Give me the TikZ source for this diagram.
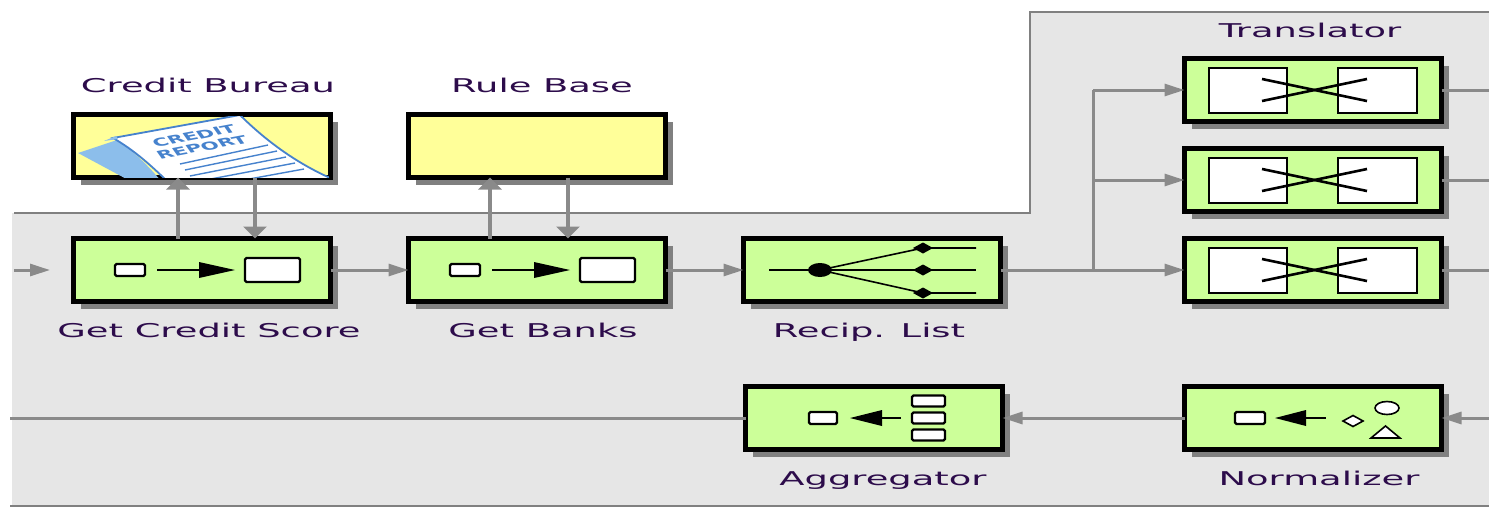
\documentclass[tikz,border=0pt]{standalone}
\usepackage{fontspec}
\setmainfont{DejaVu Sans}
\usepackage{graphicx}
\usetikzlibrary{arrows.meta,shadows,calc}

\definecolor{eipgreen}{RGB}{204,255,153}
\definecolor{eipyellow}{RGB}{255,255,153}
\definecolor{bggray}{RGB}{230,230,230}
\definecolor{edgegray}{RGB}{128,128,128}
\definecolor{flowgray}{RGB}{138,138,138}
\definecolor{lblcol}{RGB}{45,12,75}
\definecolor{reportblue}{RGB}{70,130,205}
\definecolor{sheetblue}{RGB}{140,190,235}

% labels are set wide, as in the original EIP sketches
\newcommand\widetext[1]{\scalebox{1.94}[1]{#1}}

\begin{document}
\begin{tikzpicture}[x=1pt,y=-1pt,
  eipbox/.style={draw=black, line width=4.5pt, fill=eipgreen,
    minimum width=257pt, minimum height=63pt, inner sep=0pt, outer sep=0pt,
    drop shadow={shadow xshift=7pt, shadow yshift=-7pt, fill=black!50, opacity=1}},
  storebox/.style={eipbox, fill=eipyellow},
  lbl/.style={text=lblcol, font=\fontsize{19}{22}\selectfont, anchor=base, inner sep=0pt},
  edge/.style={draw=edgegray, line width=2.5pt},
  flow/.style={draw=flowgray, line width=3pt},
  harr/.style={flow, -{Triangle[length=20pt,width=12pt]}},
  varr/.style={flow, line width=4pt, -{Triangle[length=12pt,width=23pt]}},
  iconbox/.style={draw=black, fill=white, line width=2.2pt, rounded corners=1.5pt},
  iconline/.style={draw=black, line width=2pt}]

\useasboundingbox (0,0) rectangle (1489,512);
\clip (0,0) rectangle (1489,512);

% backdrop of the loan broker process
\fill[bggray] (12,213) -- (1030,213) -- (1030,12) -- (1500,12) -- (1500,506) -- (12,506) -- cycle;
\draw[edge] (14,213) -- (1030,213) -- (1030,12) -- (1500,12);
\draw[edge] (10,506) -- (1500,506);

% external resources
\node[storebox] (cb) at (202,146) {};
\node[storebox] (rb) at (537,146) {};

% credit report sketch
\begin{scope}
  \clip (76,116) rectangle (329,177);
  \fill[sheetblue] (78,153) -- (117,140) .. controls (135,152) and (150,168) .. (162,182) -- (132,182) -- cycle;
  \filldraw[fill=white, draw=reportblue, line width=1.8pt]
    (113,138) -- (240,115) .. controls (265,140) and (295,162) .. (328,177) -- (336,186)
    -- (172,186) .. controls (152,166) and (134,150) .. (113,138) -- cycle;
  \fill[sheetblue] (104,141) -- (116,136) -- (118,139) -- cycle;
  \foreach \i in {0,...,4}
    \draw[reportblue, line width=1.4pt] (180+5*\i,164+6*\i) -- (268+9*\i,145+6*\i);
  \begin{scope}[shift={(198,141.5)}, xscale=1.94]
    \node[transform shape, rotate=20, text=reportblue, inner sep=0pt, align=center,
      font=\fontsize{11}{12}\selectfont\bfseries] (rpt) at (0,0) {CREDIT\\REPORT};
  \end{scope}
\end{scope}

% processing steps
\node[eipbox] (gcs) at (202,270) {};
\node[eipbox] (gb) at (537,270) {};
\node[eipbox] (rl) at (872,270) {};
\node[eipbox] (t1) at (1313,90) {};
\node[eipbox] (t2) at (1313,180) {};
\node[eipbox] (t3) at (1313,270) {};
\node[eipbox] (ag) at (874,418) {};
\node[eipbox] (nz) at (1313,418) {};

% content enricher icons
\foreach \n in {gcs,gb}{
  \begin{scope}[shift={(\n.center)}]
    \draw[iconbox] (-87,-6) rectangle (-57,6);
    \draw[iconline] (-45,0) -- (0,0);
    \fill (-3,-8) -- (33,0) -- (-3,8) -- cycle;
    \draw[iconbox] (43,-12) rectangle (98,12);
  \end{scope}
}

% recipient list icon
\begin{scope}[shift={(rl.center)}]
  \draw[iconline, line width=1.6pt] (-103,0) -- (104,0);
  \draw[iconline, line width=1.6pt] (-52,0) -- (51,-22) -- (104,-22);
  \draw[iconline, line width=1.6pt] (-52,0) -- (51,23) -- (104,23);
  \fill (-52,0) ellipse [x radius=12, y radius=7];
  \foreach \yy in {-22,0,23}
    \fill (41,\yy) -- (51,\yy-5.5) -- (61,\yy) -- (51,\yy+5.5) -- cycle;
\end{scope}

% translator icons
\foreach \n in {t1,t2,t3}{
  \begin{scope}[shift={(\n.center)}]
    \draw[iconbox, rounded corners=0] (-104,-22) rectangle (-26,23);
    \draw[iconbox, rounded corners=0] (25,-22) rectangle (104,23);
    \draw[iconline, line width=2.6pt] (-51,-11) -- (54,11);
    \draw[iconline, line width=2.6pt] (-51,11) -- (54,-11);
  \end{scope}
}

% aggregator icon
\begin{scope}[shift={(ag.center)}]
  \draw[iconbox] (-65,-6) rectangle (-37,6);
  \fill (-24,0) -- (8,-8) -- (8,8) -- cycle;
  \draw[iconline] (8,0) -- (27,0);
  \foreach \yy in {-17,0,17}
    \draw[iconbox] (38,\yy-5.5) rectangle (71,\yy+5.5);
\end{scope}

% normalizer icon
\begin{scope}[shift={(nz.center)}]
  \draw[iconbox] (-78,-6) rectangle (-48,6);
  \fill (-38,0) -- (-7,-8) -- (-7,8) -- cycle;
  \draw[iconline] (-7,0) -- (13,0);
  \draw[iconbox, rounded corners=0, line width=1.6pt] (30,3) -- (40,-2.5) -- (50,3) -- (40,8.5) -- cycle;
  \draw[iconbox, line width=1.6pt] (74,-10) ellipse [x radius=12, y radius=6.5];
  \draw[iconbox, rounded corners=0, line width=1.6pt] (72.5,8) -- (87,20) -- (58,20) -- cycle;
\end{scope}

% labels
\node[lbl] (lcb) at (208,92) {\widetext{Credit Bureau}};
\node[lbl] (lrb) at (542,92) {\widetext{Rule Base}};
\node[lbl] (lgcs) at (209,337) {\widetext{Get Credit Score}};
\node[lbl] (lgb) at (543,337) {\widetext{Get Banks}};
\node[lbl] (lrl) at (869,337) {\widetext{Recip. List}};
\node[lbl] (ltr) at (1310,37) {\widetext{Translator}};
\node[lbl] (lag) at (883,485) {\widetext{Aggregator}};
\node[lbl] (lnz) at (1319,485) {\widetext{Normalizer}};

% message flow
\coordinate (inL) at (14,270);
\coordinate (inR) at (50,270);
\draw[harr] (inL) -- (inR);
\draw[harr] (gcs) -- (gb);
\draw[harr] (gb) -- (rl);

\draw[varr] ($(gcs.north)+(-24,0)$) -- ($(cb.south)+(-24,0)$);
\draw[varr] ($(cb.south)+(53,0)$) -- ($(gcs.north)+(53,0)$);
\draw[varr] ($(gb.north)+(-47,0)$) -- ($(rb.south)+(-47,0)$);
\draw[varr] ($(rb.south)+(31,0)$) -- ($(gb.north)+(31,0)$);

\coordinate (split) at (1093,270);
\draw[flow] (rl) -- (split);
\draw[flow] (split) -- (split |- t1);
\draw[harr] (split |- t1) -- (t1);
\draw[harr] (split |- t2) -- (t2);
\draw[harr] (split) -- (t3);

\coordinate (o1) at (1495,90);
\coordinate (o2) at (1495,180);
\coordinate (o3) at (1495,270);
\draw[flow] (t1) -- (o1);
\draw[flow] (t2) -- (o2);
\draw[flow] (t3) -- (o3);

\coordinate (nin) at (1495,418);
\coordinate (aout) at (10,418);
\draw[harr] (nin) -- (nz);
\draw[harr] (nz) -- (ag);
\draw[flow] (ag) -- (aout);
\end{tikzpicture}
\end{document}
